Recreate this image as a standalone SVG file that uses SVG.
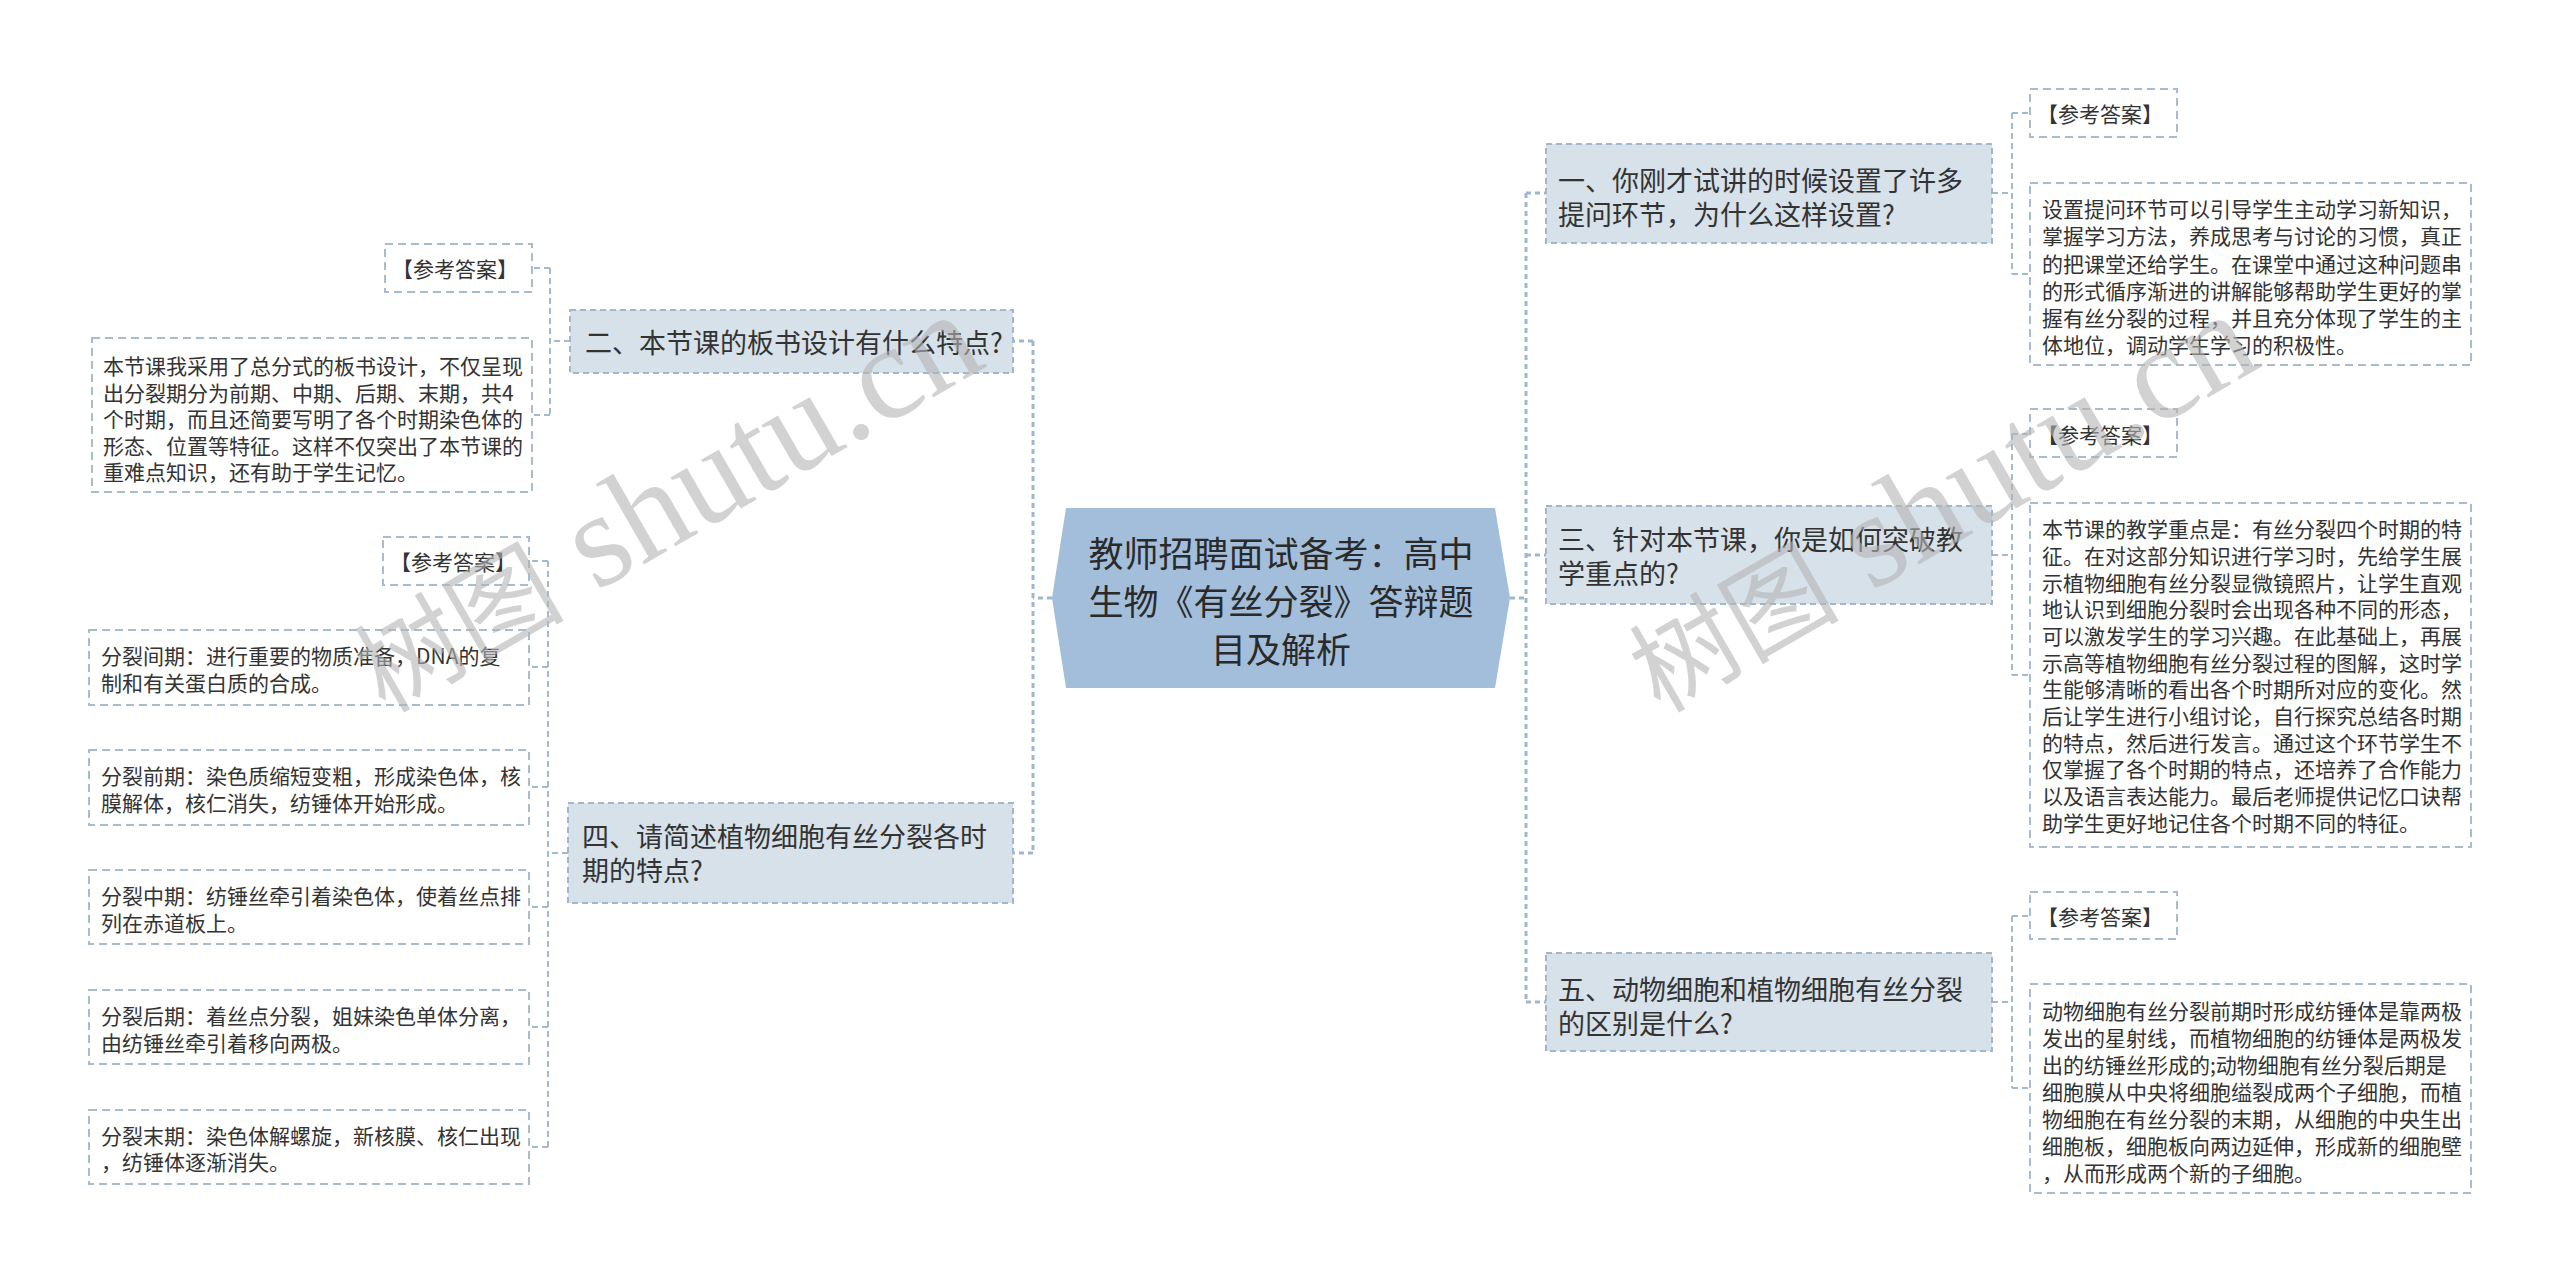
<svg xmlns="http://www.w3.org/2000/svg" width="2560" height="1283" viewBox="0 0 2560 1283">
<style>
text{font-family:"Noto Sans CJK SC","Noto Sans",sans-serif;fill:#333;dominant-baseline:central}
.c{font-size:35px;text-anchor:middle;fill:#2a2a2a}
.l1{font-size:27px}
.s{font-size:21px}
.n1{fill:#d6e1ea;stroke:#a2b7ca;stroke-width:2;stroke-dasharray:6 4}
.bx{fill:#fff;stroke:#a9bccc;stroke-width:2;stroke-dasharray:8 5}
.cn{fill:none;stroke:#a3b9cd;stroke-width:2;stroke-dasharray:6 4}
.cm{fill:none;stroke:#9fb7cd;stroke-width:3;stroke-dasharray:5 4}
.wm{font-family:"Liberation Serif","Noto Sans CJK SC",serif;fill:#b4b4b4;fill-opacity:.6;dominant-baseline:alphabetic}
</style>
<rect width="2560" height="1283" fill="#fff"/>
<g id="connectors">
<path class="cm" d="M1052,598H1033M1033,341V853M1033,341H1013M1033,853H1013"/>
<path class="cm" d="M1510,598H1526M1526,193V1002M1526,193H1546M1526,555H1546M1526,1002H1546"/>
<path class="cn" d="M570,341H550M550,268V415M550,268H532M550,415H532"/>
<path class="cn" d="M568,853H548M548,561V1147M548,561H529M548,667H529M548,787H529M548,907H529M548,1027H529M548,1147H529"/>
<path class="cn" d="M1992,193H2012M2012,113V274M2012,113H2030M2012,274H2030"/>
<path class="cn" d="M1992,555H2012M2012,434V675M2012,434H2030M2012,675H2030"/>
<path class="cn" d="M1992,1002H2012M2012,916V1088M2012,916H2030M2012,1088H2030"/>
</g>
<g id="root">
<polygon points="1052,598 1066,508 1495,508 1510,598 1495,688 1066,688" fill="#a3bedb"/>
<text class="c" x="1281" y="551">教师招聘面试备考：高中</text>
<text class="c" x="1281" y="599">生物《有丝分裂》答辩题</text>
<text class="c" x="1281" y="647">目及解析</text>
</g>
<g id="q2">
<rect class="n1" x="570" y="310" width="443" height="63"/>
<text class="l1" x="585" y="341">二、本节课的板书设计有什么特点?</text>
</g>
<g id="q2-label">
<rect class="bx" x="385" y="244" width="147" height="48"/>
<text class="s" x="392" y="268">【参考答案】</text>
</g>
<g id="q2-answer">
<rect class="bx" x="92" y="338" width="440" height="154"/>
<text class="s" x="103" y="365">本节课我采用了总分式的板书设计，不仅呈现</text>
<text class="s" x="103" y="392">出分裂期分为前期、中期、后期、末期，共4</text>
<text class="s" x="103" y="418">个时期，而且还简要写明了各个时期染色体的</text>
<text class="s" x="103" y="445">形态、位置等特征。这样不仅突出了本节课的</text>
<text class="s" x="103" y="471">重难点知识，还有助于学生记忆。</text>
</g>
<g id="q4">
<rect class="n1" x="568" y="803" width="445" height="100"/>
<text class="l1" x="582" y="835">四、请简述植物细胞有丝分裂各时</text>
<text class="l1" x="582" y="869">期的特点?</text>
</g>
<g id="q4-label">
<rect class="bx" x="383" y="537" width="146" height="48"/>
<text class="s" x="390" y="561">【参考答案】</text>
</g>
<g id="q4-a1">
<rect class="bx" x="89" y="630" width="440" height="75"/>
<text class="s" x="101" y="655">分裂间期：进行重要的物质准备，DNA的复</text>
<text class="s" x="101" y="682">制和有关蛋白质的合成。</text>
</g>
<g id="q4-a2">
<rect class="bx" x="89" y="750" width="440" height="75"/>
<text class="s" x="101" y="775">分裂前期：染色质缩短变粗，形成染色体，核</text>
<text class="s" x="101" y="802">膜解体，核仁消失，纺锤体开始形成。</text>
</g>
<g id="q4-a3">
<rect class="bx" x="89" y="870" width="440" height="74"/>
<text class="s" x="101" y="895">分裂中期：纺锤丝牵引着染色体，使着丝点排</text>
<text class="s" x="101" y="922">列在赤道板上。</text>
</g>
<g id="q4-a4">
<rect class="bx" x="89" y="990" width="440" height="74"/>
<text class="s" x="101" y="1015">分裂后期：着丝点分裂，姐妹染色单体分离，</text>
<text class="s" x="101" y="1042">由纺锤丝牵引着移向两极。</text>
</g>
<g id="q4-a5">
<rect class="bx" x="89" y="1110" width="440" height="74"/>
<text class="s" x="101" y="1135">分裂末期：染色体解螺旋，新核膜、核仁出现</text>
<text class="s" x="101" y="1161">，纺锤体逐渐消失。</text>
</g>
<g id="q1">
<rect class="n1" x="1546" y="144" width="446" height="99"/>
<text class="l1" x="1558" y="179">一、你刚才试讲的时候设置了许多</text>
<text class="l1" x="1558" y="213">提问环节，为什么这样设置?</text>
</g>
<g id="q1-label">
<rect class="bx" x="2030" y="89" width="147" height="48"/>
<text class="s" x="2037" y="113">【参考答案】</text>
</g>
<g id="q1-answer">
<rect class="bx" x="2030" y="183" width="441" height="182"/>
<text class="s" x="2042" y="208">设置提问环节可以引导学生主动学习新知识，</text>
<text class="s" x="2042" y="235">掌握学习方法，养成思考与讨论的习惯，真正</text>
<text class="s" x="2042" y="263">的把课堂还给学生。在课堂中通过这种问题串</text>
<text class="s" x="2042" y="290">的形式循序渐进的讲解能够帮助学生更好的掌</text>
<text class="s" x="2042" y="317">握有丝分裂的过程，并且充分体现了学生的主</text>
<text class="s" x="2042" y="344">体地位，调动学生学习的积极性。</text>
</g>
<g id="q3">
<rect class="n1" x="1546" y="506" width="446" height="98"/>
<text class="l1" x="1558" y="538">三、针对本节课，你是如何突破教</text>
<text class="l1" x="1558" y="572">学重点的?</text>
</g>
<g id="q3-label">
<rect class="bx" x="2030" y="409" width="147" height="48"/>
<text class="s" x="2037" y="434">【参考答案】</text>
</g>
<g id="q3-answer">
<rect class="bx" x="2030" y="503" width="441" height="344"/>
<text class="s" x="2042" y="528">本节课的教学重点是：有丝分裂四个时期的特</text>
<text class="s" x="2042" y="555">征。在对这部分知识进行学习时，先给学生展</text>
<text class="s" x="2042" y="582">示植物细胞有丝分裂显微镜照片，让学生直观</text>
<text class="s" x="2042" y="608">地认识到细胞分裂时会出现各种不同的形态，</text>
<text class="s" x="2042" y="635">可以激发学生的学习兴趣。在此基础上，再展</text>
<text class="s" x="2042" y="662">示高等植物细胞有丝分裂过程的图解，这时学</text>
<text class="s" x="2042" y="688">生能够清晰的看出各个时期所对应的变化。然</text>
<text class="s" x="2042" y="715">后让学生进行小组讨论，自行探究总结各时期</text>
<text class="s" x="2042" y="742">的特点，然后进行发言。通过这个环节学生不</text>
<text class="s" x="2042" y="768">仅掌握了各个时期的特点，还培养了合作能力</text>
<text class="s" x="2042" y="795">以及语言表达能力。最后老师提供记忆口诀帮</text>
<text class="s" x="2042" y="822">助学生更好地记住各个时期不同的特征。</text>
</g>
<g id="q5">
<rect class="n1" x="1546" y="953" width="446" height="98"/>
<text class="l1" x="1558" y="988">五、动物细胞和植物细胞有丝分裂</text>
<text class="l1" x="1558" y="1022">的区别是什么?</text>
</g>
<g id="q5-label">
<rect class="bx" x="2030" y="892" width="147" height="47"/>
<text class="s" x="2037" y="916">【参考答案】</text>
</g>
<g id="q5-answer">
<rect class="bx" x="2030" y="984" width="441" height="209"/>
<text class="s" x="2042" y="1010">动物细胞有丝分裂前期时形成纺锤体是靠两极</text>
<text class="s" x="2042" y="1037">发出的星射线，而植物细胞的纺锤体是两极发</text>
<text class="s" x="2042" y="1064">出的纺锤丝形成的;动物细胞有丝分裂后期是</text>
<text class="s" x="2042" y="1091">细胞膜从中央将细胞缢裂成两个子细胞，而植</text>
<text class="s" x="2042" y="1118">物细胞在有丝分裂的末期，从细胞的中央生出</text>
<text class="s" x="2042" y="1145">细胞板，细胞板向两边延伸，形成新的细胞壁</text>
<text class="s" x="2042" y="1172">，从而形成两个新的子细胞。</text>
</g>
<g id="watermarks">
<text class="wm" transform="translate(385,714) rotate(-30)"><tspan font-size="105">树图</tspan><tspan font-size="135"> shutu.cn</tspan></text>
<text class="wm" transform="translate(1660,714) rotate(-30)"><tspan font-size="105">树图</tspan><tspan font-size="135"> shutu.cn</tspan></text>
</g>
</svg>
